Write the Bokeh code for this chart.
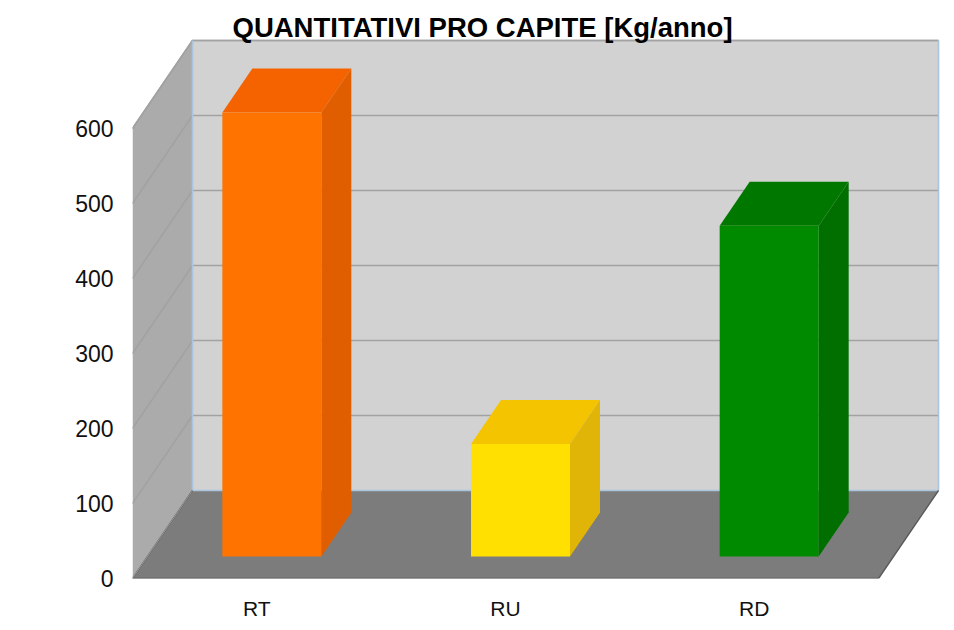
from bokeh.plotting import figure
from bokeh.models import FixedTicker, Label
from bokeh.embed import file_html
from bokeh.resources import INLINE

categories = ["RT", "RU", "RD"]
values = [592, 150, 441]
y_ticks = [0, 100, 200, 300, 400, 500, 600]
face_colors = ["#FF7400", "#FFE000", "#008A00"]
top_colors = ["#F56300", "#F5C400", "#007800"]
side_colors = ["#E05E00", "#E0B508", "#006F00"]
title_text = "QUANTITATIVI PRO CAPITE [Kg/anno]"

FONT = "Liberation Sans"
PX_X = 248.67            # pixels per category
PX_Y = 0.75              # pixels per unit
DX = 60 / PX_X           # depth of the 3D box along x
DY = 88 / PX_Y           # depth of the 3D box along y
BAR_W = 99 / PX_X
n = len(categories)
top = max(y_ticks)

FW, FH = 810, 570
p = figure(width=946, height=622, output_backend="svg", toolbar_location=None,
           x_range=(0, FW / PX_X), y_range=(0, FH / PX_Y),
           frame_width=FW, frame_height=FH,
           min_border_left=132, min_border_right=4, min_border_top=8, min_border_bottom=44,
           tools="")
p.outline_line_color = None
p.grid.visible = False
p.background_fill_color = "white"
p.border_fill_color = "white"

# walls and floor
p.patch([0, DX, DX, 0], [0, DY, top + DY, top], fill_color="#ABABAB", line_color=None)
p.patch([DX, n + DX, n + DX, DX], [DY, DY, top + DY, top + DY], fill_color="#D2D2D2", line_color=None)

# grid lines: left wall and back wall
inner = y_ticks[1:]
p.multi_line([[0, DX, n + DX] for t in inner],
             [[t, t + DY, t + DY] for t in inner],
             line_color="#A2A2A2", line_width=1.6)
# top edge of the walls
p.line([0, DX, n + DX], [top, top + DY, top + DY], line_color="#A2A2A2", line_width=1.6)
# blue edges of the back wall
p.line([DX, DX], [DY, top + DY], line_color="#A9C6DE", line_width=1.6)
p.line([n + DX, n + DX], [DY, top + DY], line_color="#A9C6DE", line_width=1.6)

p.patch([0, n, n + DX, DX], [0, 0, DY, DY], fill_color="#7C7C7C", line_color=None)
p.line([DX, n + DX], [DY, DY], line_color="#A9C6DE", line_width=1.6)
p.line([DX, 0, n, n + DX], [DY, 0, 0, DY], line_color="#5A5A5A", line_width=1.4)
p.line([DX, 0], [DY, 0], line_color="#9A9A9A", line_width=1)

# 3D bars
for i, v in enumerate(values):
    x0 = i + 0.5 - BAR_W / 2 + DX / 4
    x1 = x0 + BAR_W
    y0 = DY / 4
    y1 = y0 + v
    dx, dy = DX / 2, DY / 2
    p.patch([x0, x1, x1 + dx, x0 + dx], [y1, y1, y1 + dy, y1 + dy], fill_color=top_colors[i], line_color=None)
    p.patch([x1, x1 + dx, x1 + dx, x1], [y0, y0 + dy, y1 + dy, y1], fill_color=side_colors[i], line_color=None)
    p.patch([x0, x1, x1, x0], [y0, y0, y1, y1], fill_color=face_colors[i], line_color=None)

# axes
xa = p.xaxis[0]
xa.ticker = FixedTicker(ticks=[i + 0.5 for i in range(n)])
xa.major_label_overrides = {i + 0.5: c for i, c in enumerate(categories)}
xa.axis_line_color = None
xa.major_tick_line_color = None
xa.minor_tick_line_color = None
xa.major_label_text_font = FONT
xa.major_label_text_font_size = "21px"
xa.major_label_text_color = "#111111"
xa.major_label_standoff = 12

ya = p.yaxis[0]
ya.ticker = FixedTicker(ticks=y_ticks)
ya.axis_line_color = None
ya.major_tick_line_color = None
ya.minor_tick_line_color = None
ya.major_label_text_font = FONT
ya.major_label_text_font_size = "23px"
ya.major_label_text_color = "#111111"
ya.major_label_standoff = 13

p.add_layout(Label(x=100, y=551, x_units="screen", y_units="screen", text=title_text,
                   text_font=FONT, text_font_size="27.5px", text_font_style="bold",
                   text_color="#000000", text_baseline="middle", text_align="left"))

open("out.html", "w").write(file_html(p, INLINE))
